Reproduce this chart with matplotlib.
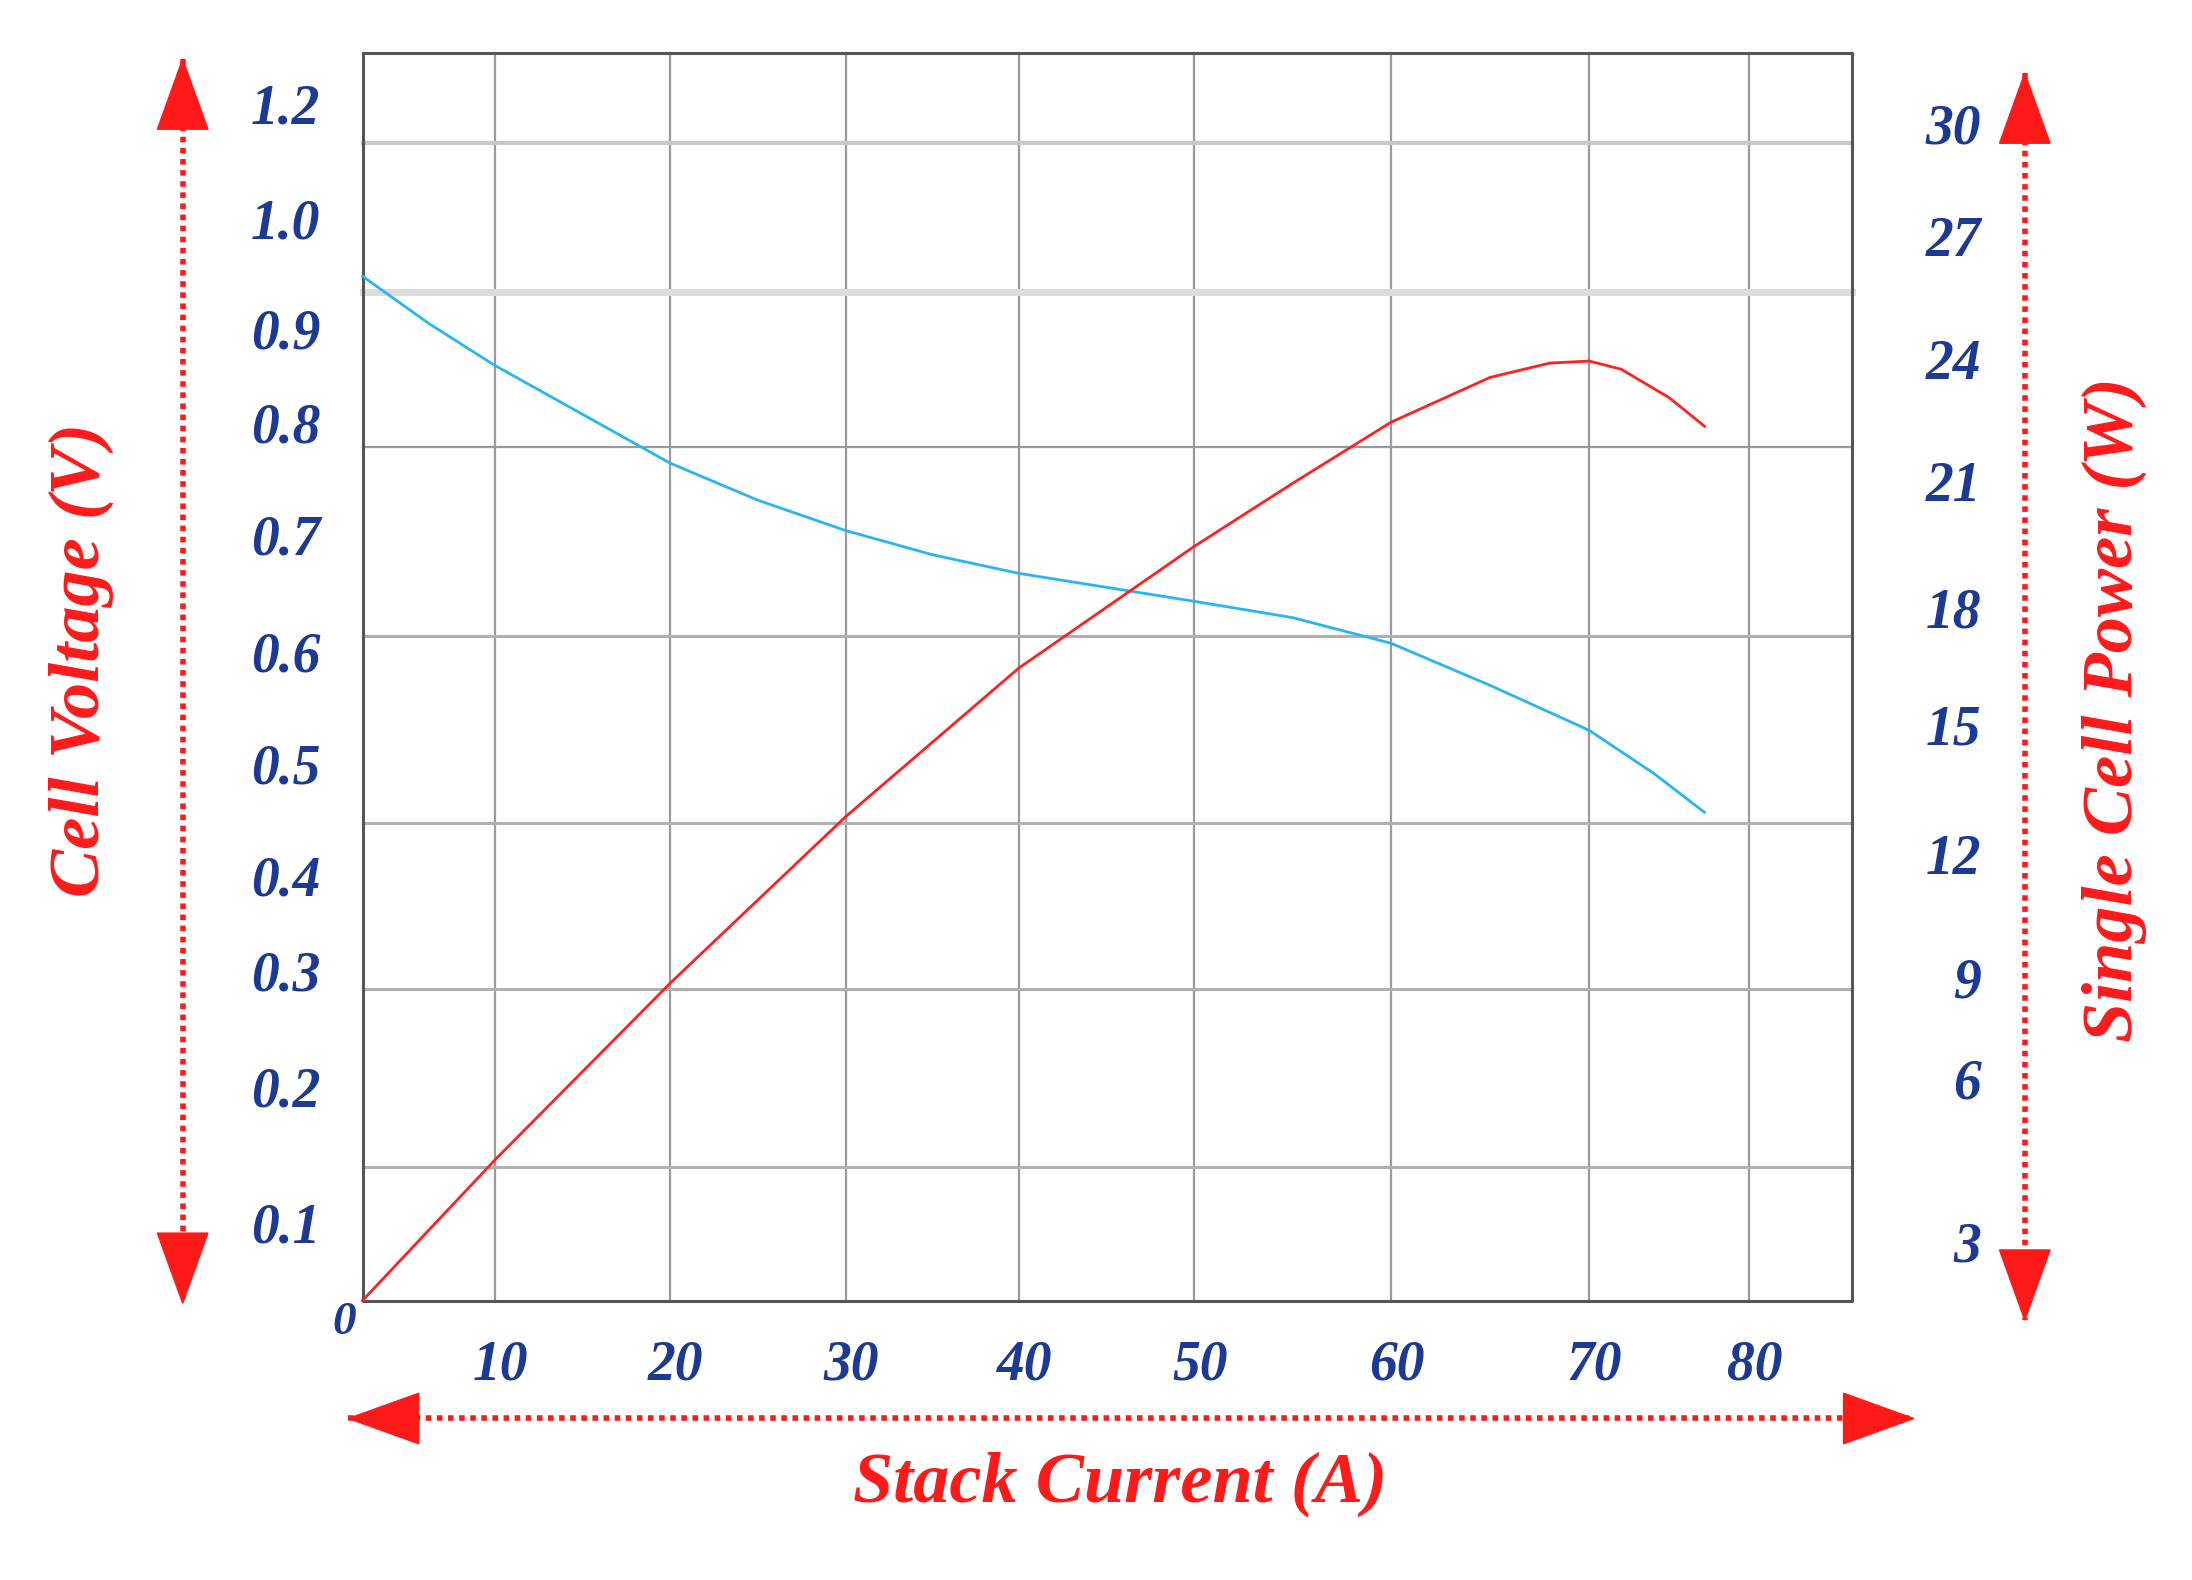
import numpy as np
import matplotlib
matplotlib.use("Agg")
import matplotlib.pyplot as plt

# Data
current_v = [0, 5, 10, 15, 20, 25, 30, 35, 40, 45, 50, 55, 60, 65, 70, 74, 77.2]
voltage = [0.953, 0.91, 0.867, 0.815, 0.769, 0.736, 0.709, 0.688, 0.672, 0.66, 0.648, 0.634,
           0.612, 0.575, 0.535, 0.497, 0.462]
current_p = [0, 10, 20, 30, 40, 50, 55, 60, 65, 68, 70, 72, 75, 77.2]
power = [0.0, 4.6, 9.0, 13.0, 16.6, 19.6, 21.1, 22.6, 23.7, 24.05, 24.1, 23.9, 23.2, 22.5]
x_ticks = [0, 10, 20, 30, 40, 50, 60, 70, 80]
v_ticks = [0, 0.1, 0.2, 0.3, 0.4, 0.5, 0.6, 0.7, 0.8, 0.9, 1.0, 1.2]
p_ticks = [0, 3, 6, 9, 12, 15, 18, 21, 24, 27, 30]

# axis calibration (reference pixel frame 1560x1125)
x_pix = [258, 352, 477, 602, 725, 850, 990, 1131, 1245]
v_pix = [926, 875, 778, 695, 628, 548, 468, 385, 305, 238, 160, 78]
p_pix = [926, 888, 772, 700, 612, 520, 437, 347, 260, 172, 92]

fig = plt.figure(figsize=(21.92, 15.8), dpi=100)
ax = fig.add_axes([0, 0, 1, 1])
ax.set_xlim(0, 1560); ax.set_ylim(1125, 0); ax.axis("off")

navy = "#1c3a94"; red = "#ff1a1a"
L, R, T, B = 258, 1318, 38, 926
for gx in x_pix[1:]:
    ax.plot([gx, gx], [T, B], color="#9a9a9a", lw=1.6, zorder=1)
for gy, c, w in [(102, "#c8c8c8", 3), (208, "#dcdcdc", 5), (318, "#9a9a9a", 1.6),
                 (453, "#b0b0b0", 2.2), (586, "#b0b0b0", 2.2), (704, "#b0b0b0", 2.2),
                 (831, "#b0b0b0", 2.2)]:
    ax.plot([L, R], [gy, gy], color=c, lw=w, zorder=1)
ax.plot([L, R, R, L, L], [T, T, B, B, T], color="#555555", lw=2.2, zorder=2)

ax.plot(np.interp(current_v, x_ticks, x_pix), np.interp(voltage, v_ticks, v_pix),
        color="#29b6f0", lw=2, zorder=3)
ax.plot(np.interp(current_p, x_ticks, x_pix), np.interp(power, p_ticks, p_pix),
        color="#ff2020", lw=2, zorder=3)

fnt = dict(family="Liberation Serif", weight="bold", style="italic")
for v, y in zip(v_ticks[1:], v_pix[1:]):
    ax.text(228, y, f"{v:.1f}", ha="right", va="center", color=navy, fontsize=40, **fnt)
ax.text(245, 942, "0", ha="center", va="center", color=navy, fontsize=34, **fnt)
for t, x in zip(x_ticks[1:], x_pix[1:]):
    ax.text(x + 4, 972, str(t), ha="center", va="center", color=navy, fontsize=40, **fnt)
for t, y in zip(p_ticks[1:], p_pix[1:]):
    ax.text(1410, y, str(t), ha="right", va="center", color=navy, fontsize=40, **fnt)

def arrow(p0, p1):
    ax.plot([p0[0], p1[0]], [p0[1], p1[1]], color=red, lw=4, ls=(0, (1, 1)), zorder=4)
    for a, b in [(p0, p1), (p1, p0)]:
        d = np.array(a) - np.array(b); d = d / np.linalg.norm(d)
        n = np.array([-d[1], d[0]]); tip = np.array(a); base = tip - d * 50
        tri = np.array([tip, base + n * 18, base - n * 18])
        ax.fill(tri[:, 0], tri[:, 1], color=red, zorder=5)

arrow((130, 42), (130, 928))
arrow((1441, 52), (1441, 940))
arrow((248, 1010), (1362, 1010))

ax.text(58, 470, "Cell Voltage (V)", rotation=90, ha="center", va="center", color=red, fontsize=52, **fnt)
ax.text(1505, 505, "Single Cell Power (W)", rotation=90, ha="center", va="center", color=red, fontsize=52, **fnt)
ax.text(797, 1057, "Stack Current (A)", ha="center", va="center", color=red, fontsize=52, **fnt)

fig.savefig("out.png", dpi=100)
